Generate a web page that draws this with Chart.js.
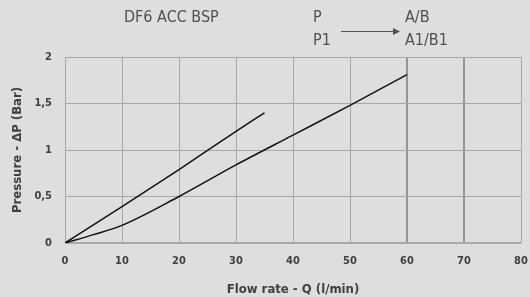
<!DOCTYPE html>
<html>
<head>
<meta charset="utf-8">
<script src="https://cdn.jsdelivr.net/npm/chart.js@4/dist/chart.umd.min.js"></script>
<style>
  html, body { margin: 0; padding: 0; background: #dedede; }
  #wrap { width: 530px; height: 297px; }
</style>
</head>
<body>
<div id="wrap"><canvas id="myChart" width="530" height="297"></canvas></div>
<script>
// readings
let flowA = [0, 10, 20, 30, 35];
let pressA = [0, 0.39, 0.79, 1.2, 1.4];

let flowB = [0, 5, 10, 20, 30, 40, 50, 60];
let pressB = [0, 0.09, 0.19, 0.5, 0.84, 1.16, 1.48, 1.81];

let xTicks = [0, 10, 20, 30, 40, 50, 60, 70, 80];
let yTicks = ['0', '0,5', '1', '1,5', '2'];

let ctx = document.getElementById('myChart').getContext('2d');

let font = "'DejaVu Sans Condensed', 'Roboto', sans-serif";

function pts(xs, ys) {
    return xs.map((x, i) => ({ x: x, y: ys[i] }));
}

let headerPlugin = {
    id: 'header',
    beforeDraw(chart) {
        let c = chart.ctx;
        c.save();
        c.fillStyle = '#dedede';
        c.fillRect(0, 0, chart.width, chart.height);
        c.restore();
    },
    afterDraw(chart) {
        let c = chart.ctx;
        c.save();
        c.fillStyle = '#505050';
        c.font = "16px " + font;
        c.textBaseline = 'middle';
        c.textAlign = 'left';
        c.fillText('DF6 ACC BSP', 124, 18);
        c.fillText('P', 313, 18);
        c.fillText('P1', 313, 41);
        c.fillText('A/B', 405, 18);
        c.fillText('A1/B1', 405, 41);
        // arrow
        c.strokeStyle = '#505050';
        c.lineWidth = 1;
        c.beginPath();
        c.moveTo(341, 31.5);
        c.lineTo(394, 31.5);
        c.stroke();
        c.beginPath();
        c.moveTo(400, 31.5);
        c.lineTo(393, 28);
        c.lineTo(393, 35);
        c.closePath();
        c.fillStyle = '#505050';
        c.fill();
        c.restore();
    }
};

let myChart = new Chart(ctx, {
    type: 'line',
    data: {
        datasets: [{
            label: 'P1 - A1/B1',
            data: pts(flowA, pressA),
            borderColor: '#111',
            borderWidth: 1.5,
            pointRadius: 0,
            cubicInterpolationMode: 'monotone'
        }, {
            label: 'P - A/B',
            data: pts(flowB, pressB),
            borderColor: '#111',
            borderWidth: 1.5,
            pointRadius: 0,
            cubicInterpolationMode: 'monotone'
        }]
    },
    options: {
        responsive: false,
        animation: false,
        layout: { padding: { top: 57, right: 9, left: 0, bottom: 0 } },
        plugins: {
            legend: { display: false },
            tooltip: { enabled: false }
        },
        scales: {
            x: {
                type: 'linear',
                min: 0,
                max: 80,
                afterBuildTicks: (axis) => { axis.ticks = xTicks.map(v => ({ value: v })); },
                afterFit: (axis) => {
                    axis.height = 54;
                    axis.paddingRight = 0;
                    axis.paddingLeft = 0;
                },
                border: { display: false },
                grid: {
                    color: (c) => c.tick && c.tick.value >= 60 && c.tick.value < 80 ? '#959595' : '#a8a8a8',
                    lineWidth: (c) => c.tick && c.tick.value >= 60 && c.tick.value < 80 ? 2 : 1,
                    drawTicks: false
                },
                ticks: {
                    color: '#404040',
                    padding: 12,
                    maxRotation: 0,
                    font: { family: font, size: 11, weight: 'bold' }
                },
                title: {
                    display: true,
                    text: 'Flow rate - Q (l/min)',
                    color: '#404040',
                    padding: { top: 6, bottom: 0 },
                    font: { family: font, size: 13, weight: 'bold' }
                }
            },
            y: {
                min: 0,
                max: 2,
                afterBuildTicks: (axis) => { axis.ticks = yTicks.map((t, i) => ({ value: i * 0.5 })); },
                afterFit: (axis) => { axis.width = 65; },
                border: { display: false },
                grid: {
                    color: '#a8a8a8',
                    lineWidth: (c) => c.tick && c.tick.value === 0 ? 2 : 1,
                    drawTicks: false
                },
                ticks: {
                    color: '#404040',
                    padding: 13,
                    callback: (v, i) => yTicks[i],
                    font: { family: font, size: 11, weight: 'bold' }
                },
                title: {
                    display: true,
                    text: 'Pressure - ΔP (Bar)',
                    color: '#404040',
                    padding: { top: 10, bottom: 4 },
                    font: { family: font, size: 13, weight: 'bold' }
                }
            }
        }
    },
    plugins: [headerPlugin]
});
</script>
</body>
</html>
